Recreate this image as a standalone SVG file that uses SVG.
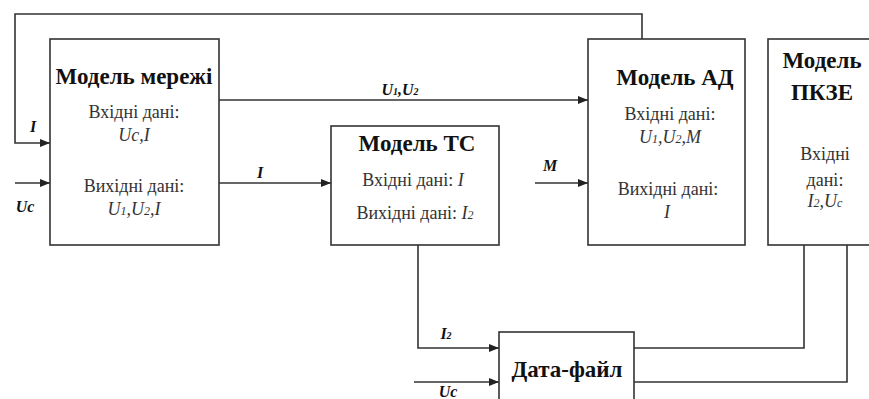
<svg xmlns="http://www.w3.org/2000/svg" width="869" height="399" viewBox="0 0 869 399">
<defs>
<marker id="arr" markerWidth="10" markerHeight="8" refX="10" refY="4" orient="auto" markerUnits="userSpaceOnUse">
<path d="M0,0 L10,4 L0,8 Z" fill="#222"/>
</marker>
</defs>
<style>
text{font-family:'Liberation Serif','Times New Roman',serif}
.box{fill:#fff;stroke:#333;stroke-width:1.6}
.ln{fill:none;stroke:#333;stroke-width:1.6}
.t{fill:#333;text-anchor:middle}
.ti{font-size:23px;font-weight:bold;fill:#111;text-anchor:middle}
.tx{font-size:18px}
.it{font-style:italic}
.lb{font-size:16px;font-style:italic;font-weight:bold;fill:#111;text-anchor:middle}
</style>
<rect width="869" height="399" fill="#fff"/>
<g id="connectors">
<path class="ln" d="M642,39 V14 H15 V143 H50" marker-end="url(#arr)"/>
<path class="ln" d="M15,183 H50" marker-end="url(#arr)"/>
<path class="ln" d="M219,100 H588" marker-end="url(#arr)"/>
<path class="ln" d="M219,183 H331" marker-end="url(#arr)"/>
<path class="ln" d="M535,183 H588" marker-end="url(#arr)"/>
<path class="ln" d="M418,245 V348 H499" marker-end="url(#arr)"/>
<path class="ln" d="M414,382 H499" marker-end="url(#arr)"/>
<path class="ln" d="M634,348 H804 V245"/>
<path class="ln" d="M634,382 H847 V245"/>
<text class="lb" x="33" y="132">I</text>
<text class="lb" x="25" y="212">Uc</text>
<text class="lb" x="400" y="95">U<tspan font-size="10">1</tspan>,U<tspan font-size="10">2</tspan></text>
<text class="lb" x="260" y="178">I</text>
<text class="lb" x="550" y="171">M</text>
<text class="lb" x="446" y="339">I<tspan font-size="10">2</tspan></text>
<text class="lb" x="448" y="397">Uc</text>
</g>
<g id="model-merezhi">
<rect class="box" x="50" y="39" width="169" height="206"/>
<text class="ti" x="134" y="84">Модель мережі</text>
<text class="t tx" x="134" y="118">Вхідні дані:</text>
<text class="t tx it" x="134" y="141">Uc,I</text>
<text class="t tx" x="134" y="192">Вихідні дані:</text>
<text class="t tx it" x="134" y="215">U<tspan font-size="12">1</tspan>,U<tspan font-size="12">2</tspan>,I</text>
</g>
<g id="model-ts">
<rect class="box" x="331" y="126" width="168" height="119"/>
<text class="ti" x="417" y="151">Модель ТС</text>
<text class="t tx" x="413" y="186">Вхідні дані: <tspan class="it">I</tspan></text>
<text class="t tx" x="415" y="219">Вихідні дані: <tspan class="it">I<tspan font-size="12">2</tspan></tspan></text>
</g>
<g id="model-ad">
<rect class="box" x="588" y="39" width="157" height="206"/>
<text class="ti" x="675" y="85">Модель АД</text>
<text class="t tx" x="670" y="120">Вхідні дані:</text>
<text class="t tx it" x="670" y="143">U<tspan font-size="12">1</tspan>,U<tspan font-size="12">2</tspan>,M</text>
<text class="t tx" x="668" y="195">Вихідні дані:</text>
<text class="t tx it" x="667" y="218">I</text>
</g>
<g id="model-pkze">
<rect class="box" x="768" y="39" width="110" height="206"/>
<text class="ti" x="822" y="68">Модель</text>
<text class="ti" x="822" y="100">ПКЗЕ</text>
<text class="t tx" x="825" y="160">Вхідні</text>
<text class="t tx" x="825" y="186">дані:</text>
<text class="t tx it" x="825" y="207">I<tspan font-size="12">2</tspan>,U<tspan font-size="12">c</tspan></text>
</g>
<g id="data-file">
<rect class="box" x="499" y="332" width="135" height="70"/>
<text class="ti" x="567" y="377">Дата-файл</text>
</g>
</svg>
